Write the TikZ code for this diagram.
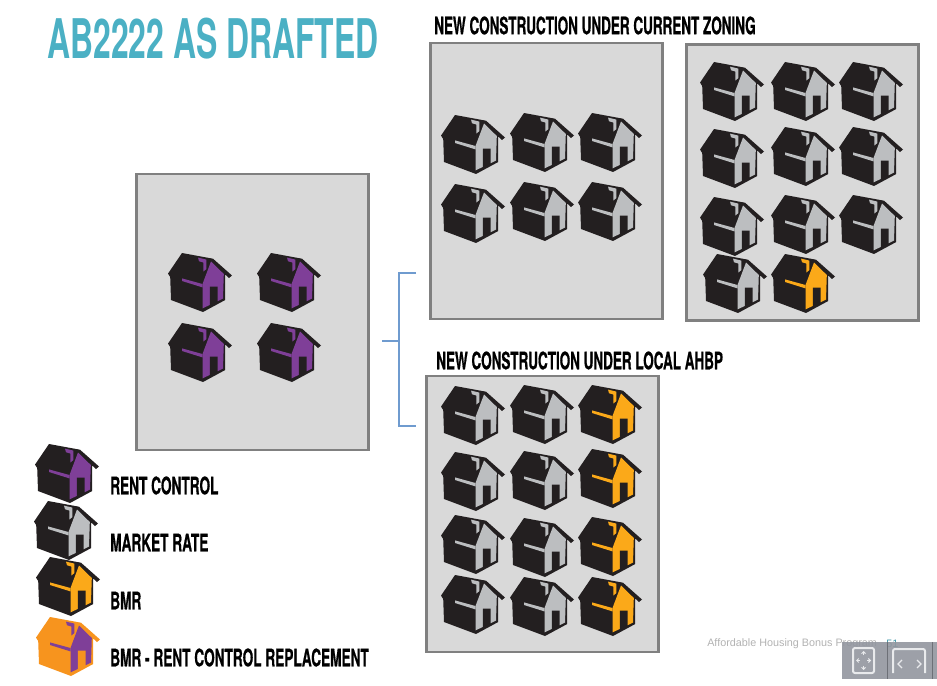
\documentclass[tikz,border=0pt]{standalone}
\usepackage{fontspec}
\usetikzlibrary{arrows.meta}
\newfontfamily\bebas[FakeStretch=0.562,FakeBold=0.6]{TeX Gyre Heros Bold}
\newfontfamily\bebaskey[FakeStretch=0.568,FakeBold=0.6]{TeX Gyre Heros Bold}
\newfontfamily\bebastitle[FakeStretch=0.583]{TeX Gyre Heros Bold}
\setmainfont{Liberation Sans}

\definecolor{roofblack}{HTML}{231F20}
\definecolor{rentpurple}{HTML}{7F3F98}
\definecolor{marketgray}{HTML}{BCBEC0}
\definecolor{bmryellow}{HTML}{FBA919}
\definecolor{bmrorange}{HTML}{F7941E}
\definecolor{titleblue}{HTML}{4BB0C4}
\definecolor{lotgray}{HTML}{D9D9D9}
\definecolor{lotedge}{HTML}{808080}
\definecolor{bracketblue}{HTML}{6F9BCF}
\definecolor{barfill}{HTML}{92969F}

\tikzset{
    lot/.style={draw=lotedge, line width=1.9pt, fill=lotgray, minimum width=174pt, minimum height=207pt, inner sep=0pt},
    heading/.style={anchor=west, inner sep=0pt, font=\bebas\fontsize{18}{18}\selectfont},
    legendtext/.style={anchor=west, inner sep=0pt, font=\bebaskey\fontsize{18}{18}\selectfont},
    bracket/.style={draw=bracketblue, line width=0.85pt},
    icon/.style={draw=white!80!barfill, line width=1.2pt},
    pics/house/.style 2 args={code={
        \fill[#1, line join=round] (14,0) -- (45,5.7) -- (64,22.5) -- (61,25) -- (57.2,21.5) -- (57.2,47)
            -- (35,59) -- (3,47) -- (2.2,24) -- (0,20.6) -- cycle;
        \fill[#2] (43,8.5) -- (55.8,21) -- (55,45.6) -- (34.5,55.4) -- (34.5,31) -- cycle;
        \fill[#1] (41.8,33.6) -- (49.6,33.6) -- (49.6,50) -- (41.8,53.6) -- cycle;
        \fill[#2] (30,4.6) -- (38.4,6.6) -- (38.4,16) -- (35.4,18.5) -- (35.4,9.6) -- (31,8.2) -- cycle;
        \fill[#2] (14,25.4) -- (34.5,31) -- (34.5,34.4) -- (14,28) -- cycle;
    }}
}

\begin{document}
\begin{tikzpicture}[x=0.75pt, y=-0.75pt]
    \useasboundingbox (0,0) rectangle (937,685);

    % lots
    \node[lot] (existing) at (252.5,312) {};
    \node[lot] (zoningone) at (546.5,181) {};
    \node[lot] (zoningtwo) at (802.5,182.5) {};
    \node[lot] (ahbp) at (542.5,514) {};

    % headings
    \node[anchor=west, inner sep=0pt, text=titleblue, font=\bebastitle\fontsize{41}{41}\selectfont] (title) at (47,39) {AB2222 AS DRAFTED};
    \node[heading] (headzoning) at (434,25.5) {NEW CONSTRUCTION UNDER CURRENT ZONING};
    \node[heading] (headahbp) at (436,360.5) {NEW CONSTRUCTION UNDER LOCAL AHBP};

    % existing lot
    \foreach \x/\y in {168/253, 257/253, 168/323, 257/323}
        \pic at (\x,\y) {house={roofblack}{rentpurple}};

    % current zoning
    \foreach \x/\y in {441/115, 510/113, 578/113, 441/184, 510/182, 578/182}
        \pic at (\x,\y) {house={roofblack}{marketgray}};
    \foreach \x/\y in {700/62, 771/62, 839/62, 700/129, 771/127, 839/127, 700/197, 771/195, 839/195, 703/254}
        \pic at (\x,\y) {house={roofblack}{marketgray}};
    \pic at (771,254) {house={roofblack}{bmryellow}};

    % local ahbp
    \foreach \x/\y in {441/386, 510/385, 441/452, 510/451, 441/515, 510/518, 441/575, 510/577}
        \pic at (\x,\y) {house={roofblack}{marketgray}};
    \foreach \y in {385, 449, 517, 577}
        \pic at (578,\y) {house={roofblack}{bmryellow}};

    % bracket
    \coordinate (stem) at (382,341);
    \coordinate (joint) at (399,341);
    \coordinate (upper) at (416,273);
    \coordinate (lower) at (416,426);
    \draw[bracket] (stem) -- (joint);
    \draw[bracket] (upper) -| (joint) |- (lower);

    % legend
    \pic at (35,444) {house={roofblack}{rentpurple}};
    \pic at (34,501) {house={roofblack}{marketgray}};
    \pic at (36,557) {house={roofblack}{bmryellow}};
    \pic at (36,617) {house={bmrorange}{rentpurple}};
    \node[legendtext] (keyrent) at (110,485.5) {RENT CONTROL};
    \node[legendtext] (keymarket) at (110,542.5) {MARKET RATE};
    \node[legendtext] (keybmr) at (110,600.5) {BMR};
    \node[legendtext] (keyreplace) at (110,657.5) {BMR - RENT CONTROL REPLACEMENT};

    % footer
    \node[anchor=west, inner sep=0pt, text=black!30, font=\fontsize{8.1}{8.1}\selectfont] (footer) at (707,643.5) {Affordable Housing Bonus Program};
    \node[anchor=west, inner sep=0pt, text=titleblue!85!black, font=\fontsize{8.1}{8.1}\selectfont] (pageno) at (886,643.5) {51};

    % viewer bar
    \fill[barfill, opacity=0.9] (842,642) rectangle (937,679);
    \draw[barfill!75!black, line width=0.6pt] (887,642) -- (887,679) (932,642) -- (932,679);
    \draw[icon, rounded corners=1.5pt, line width=1.5pt] (853,648) rectangle (874,673);
    \draw[icon, -{Straight Barb[length=1.5pt,width=3pt]}, line width=0.7pt] (863.5,655) -- (863.5,651);
    \draw[icon, -{Straight Barb[length=1.5pt,width=3pt]}, line width=0.7pt] (863.5,666) -- (863.5,670);
    \draw[icon, -{Straight Barb[length=1.5pt,width=3pt]}, line width=0.7pt] (860,660.5) -- (856,660.5);
    \draw[icon, -{Straight Barb[length=1.5pt,width=3pt]}, line width=0.7pt] (867,660.5) -- (871,660.5);
    \draw[icon, rounded corners=1.5pt, line width=1.5pt] (893,673) -- (893,649) -- (925,649) -- (925,673);
    \draw[icon, line width=1pt] (902,660) -- (898,664) -- (902,668);
    \draw[icon, line width=1pt] (917,660) -- (921,664) -- (917,668);
\end{tikzpicture}
\end{document}
